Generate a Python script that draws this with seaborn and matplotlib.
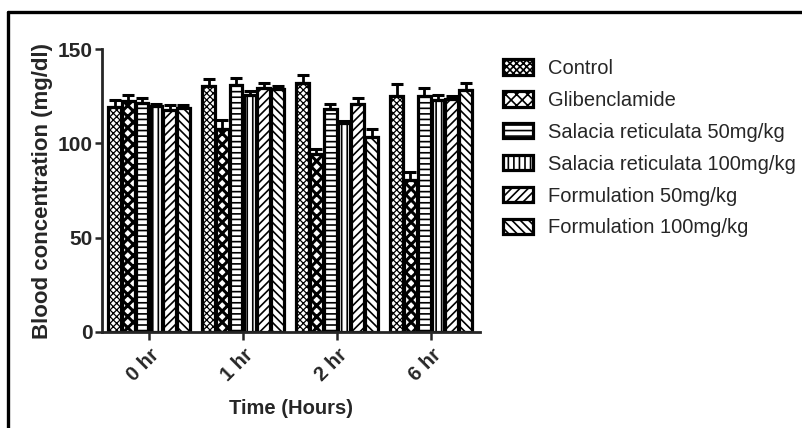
import numpy as np
import pandas as pd
import matplotlib
matplotlib.use("Agg")
import matplotlib.pyplot as plt
from matplotlib.lines import Line2D
import seaborn as sns

times = ["0 hr", "1 hr", "2 hr", "6 hr"]
groups = ["Control", "Glibenclamide", "Salacia reticulata 50mg/kg",
          "Salacia reticulata 100mg/kg", "Formulation 50mg/kg", "Formulation 100mg/kg"]

control = [119.5, 130.4, 131.9, 125.3]
glibenclamide = [122.5, 107.6, 94.3, 80.5]
sr50 = [121.6, 131.3, 118.2, 125.3]
sr100 = [120.0, 125.7, 111.0, 123.0]
form50 = [117.7, 129.2, 120.7, 123.5]
form100 = [118.6, 128.7, 103.5, 128.3]

control_err = [3.5, 4.0, 4.4, 6.2]
glibenclamide_err = [3.2, 4.8, 3.0, 4.5]
sr50_err = [2.5, 3.7, 2.7, 4.4]
sr100_err = [1.0, 2.0, 0.8, 2.7]
form50_err = [2.7, 3.0, 3.2, 1.8]
form100_err = [2.0, 1.7, 4.1, 3.6]

values = [control, glibenclamide, sr50, sr100, form50, form100]
errors = [control_err, glibenclamide_err, sr50_err, sr100_err, form50_err, form100_err]
hatches = ["xxxxx", "xxx", "---", "|||", "////", "\\\\\\\\"]
hatch_lw = [0.9, 2.2, 1.2, 1.2, 1.2, 1.2]

rows = []
for g, vals, errs in zip(groups, values, errors):
    for t, v, e in zip(times, vals, errs):
        rows.append({"time": t, "group": g, "value": v, "err": e})
df = pd.DataFrame(rows)

sns.set_style("ticks")
plt.rcParams["font.family"] = ["Liberation Sans", "DejaVu Sans"]
plt.rcParams["hatch.linewidth"] = 1.2

fig = plt.figure(figsize=(8.02, 4.28), dpi=100)
ax = fig.add_axes([102 / 802, 1 - 331.7 / 428, (480 - 102) / 802, (331.7 - 49.3) / 428])

sns.barplot(data=df, x="time", y="value", hue="group", order=times, hue_order=groups,
            palette=["white"] * 6, edgecolor="black", linewidth=2.3, width=0.88, gap=0.08,
            errorbar=None, legend=False, saturation=1, ax=ax)

bar_conts = list(ax.containers)
for i, cont in enumerate(bar_conts):
    xs, ys = [], []
    for bar in cont.patches:
        bar.set_hatch(hatches[i])
        bar.set_edgecolor("black")
        if hasattr(bar, "set_hatch_linewidth"):
            bar.set_hatch_linewidth(hatch_lw[i])
        xs.append(bar.get_x() + bar.get_width() / 2)
        ys.append(bar.get_height())
    errs = errors[i]
    ax.errorbar(xs, ys, yerr=[np.zeros(len(errs)), errs], fmt="none", ecolor="black",
                elinewidth=2, capsize=4, capthick=2.2, zorder=3)

ax.set_ylim(0, 150)
ax.set_xlim(-0.5, 3.52)
ax.set_yticks([0, 50, 100, 150])
sns.despine(ax=ax)
for s in ["left", "bottom"]:
    ax.spines[s].set_linewidth(2)
ax.tick_params(axis="y", width=1.8, length=5, labelsize=15, pad=2)
ax.tick_params(axis="x", width=1.8, length=6, labelsize=15, pad=4)
for lab in ax.get_yticklabels():
    lab.set_fontweight("bold")
ax.set_xticks(range(len(times)))
ax.set_xticklabels(times, rotation=45, ha="right", rotation_mode="anchor",
                   fontweight="bold", fontsize=14.5)
ax.set_ylabel("Blood concentration (mg/dl)", fontsize=16, fontweight="bold", labelpad=3)
ax.set_xlabel("Time (Hours)", fontsize=14.5, fontweight="bold", labelpad=10)

handles = [cont.patches[0] for cont in bar_conts]
fig.legend(handles, groups, loc="upper left", bbox_to_anchor=(503 / 802, 1 - 59 / 428),
           frameon=False, fontsize=14.5, handlelength=1.5, handleheight=0.8,
           handletextpad=0.75, labelspacing=0.64, borderpad=0, borderaxespad=0)

fig.add_artist(Line2D([8 / 802, 8 / 802], [0, 1 - 12 / 428], transform=fig.transFigure,
                      color="black", linewidth=2.4))
fig.add_artist(Line2D([8 / 802, 1], [1 - 12 / 428, 1 - 12 / 428], transform=fig.transFigure,
                      color="black", linewidth=2.4))

fig.savefig("out.png", dpi=100)
